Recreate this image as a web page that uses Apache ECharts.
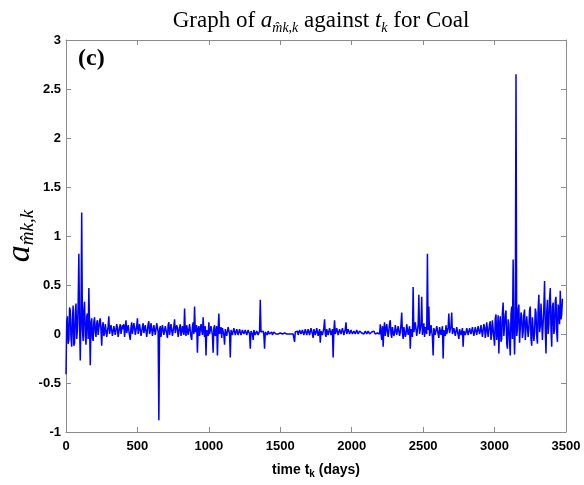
<!DOCTYPE html>
<html>
<head>
<meta charset="utf-8">
<script src="https://cdn.jsdelivr.net/npm/echarts@6/dist/echarts.min.js"></script>
<style>html,body{margin:0;padding:0;background:#fff}#c{width:584px;height:485px}</style>
</head>
<body>
<div id="c"></div>
<script>
// time of first sample and spacing (days)
const startDay = 0;
const stepDays = 5;
// a_{m̂k,k} values (one row = 100 days)
const values = [
  -0.41, 0.12, 0.18, -0.1, -0.06, 0.27, 0.24, -0.04, -0.13, 0.15, 0.29, -0.12, -0.09, 0.22, 0.31, -0.05, 0.04, 0.3, 0.82, 0.1,
  -0.27, 0.2, 1.24, 0.05, -0.07, 0.25, 0.33, -0.02, -0.11, 0.18, 0.21, -0.05, 0.47, 0.08, -0.32, 0.12, 0.16, -0.04, -0.07, 0.13,
  0.17, 0.02, -0.03, 0.11, 0.14, -0.01, 0.0, 0.13, 0.16, 0.03, -0.12, 0.08, 0.12, -0.02, 0.01, 0.1, 0.09, -0.03, -0.02, 0.08,
  0.18, 0.0, 0.02, 0.09, 0.07, -0.02, -0.04, 0.08, 0.09, -0.01, 0.0, 0.1, 0.06, -0.03, -0.05, 0.07, 0.1, 0.0, 0.01, 0.09,
  0.05, 0.1, -0.03, 0.06, 0.14, 0.01, 0.0, 0.09, 0.08, -0.02, -0.06, 0.07, 0.12, 0.0, 0.02, 0.11, 0.07, -0.01, -0.03, 0.08,
  0.16, 0.0, 0.01, 0.1, 0.09, -0.02, -0.04, 0.07, 0.11, 0.01, 0.0, 0.09, 0.08, -0.03, -0.02, 0.1, 0.13, 0.0, 0.03, 0.11,
  0.06, -0.02, -0.03, 0.09, 0.1, -0.01, 0.0, 0.11, 0.12, 0.02, -0.88, 0.05, 0.08, -0.03, -0.02, 0.09, 0.1, -0.01, 0.0, 0.08,
  0.07, 0.0, -0.04, 0.09, 0.12, -0.01, 0.01, 0.1, 0.08, -0.02, -0.03, 0.08, 0.15, 0.01, 0.0, 0.09, 0.06, -0.03, -0.05, 0.07,
  0.1, -0.02, 0.02, 0.08, 0.07, -0.01, 0.26, 0.03, -0.02, 0.09, 0.11, -0.01, 0.0, 0.1, 0.09, -0.03, -0.06, 0.07, 0.12, 0.0,
  0.28, 0.02, 0.01, 0.09, -0.19, 0.05, 0.08, -0.02, 0.0, 0.1, 0.1, -0.01, 0.17, 0.03, -0.03, 0.08, -0.22, 0.04, 0.06, -0.02,
  0.12, 0.0, -0.02, 0.08, 0.07, -0.01, -0.19, 0.06, 0.09, -0.02, 0.01, 0.08, -0.22, 0.05, 0.21, 0.0, 0.03, 0.07, -0.04, 0.06,
  0.08, -0.01, -0.11, 0.05, 0.06, -0.02, 0.0, 0.07, 0.09, 0.0, -0.24, 0.04, 0.05, -0.01, 0.01, 0.06, 0.07, -0.01, -0.03, 0.05,
  0.06, -0.01, 0.0, 0.05, 0.04, -0.01, -0.02, 0.04, 0.05, 0.0, 0.01, 0.04, 0.03, -0.01, -0.01, 0.04, 0.04, 0.0, -0.15, 0.03,
  0.03, 0.0, -0.06, 0.04, 0.04, -0.01, 0.0, 0.03, 0.02, -0.01, -0.02, 0.03, 0.35, 0.02, 0.01, 0.04, 0.03, -0.01, -0.15, 0.02,
  0.02, 0.0, -0.01, 0.03, 0.03, 0.0, 0.0, 0.02, 0.02, -0.01, -0.02, 0.02, 0.03, 0.0, 0.0, 0.02, 0.01, 0.0, 0.02, 0.01,
  0.01, 0.02, 0.02, 0.0, 0.0, 0.02, 0.01, 0.01, 0.02, 0.0, 0.01, 0.02, 0.0, 0.01, 0.02, 0.0, 0.01, 0.02, 0.0, 0.01,
  -0.08, 0.02, 0.01, 0.03, 0.03, -0.01, 0.0, 0.04, 0.04, 0.0, -0.02, 0.04, 0.05, -0.01, 0.0, 0.05, 0.06, -0.01, -0.03, 0.05,
  0.05, -0.01, 0.01, 0.06, 0.07, 0.0, -0.04, 0.05, 0.04, -0.01, 0.02, 0.06, 0.06, -0.02, -0.03, 0.05, -0.09, 0.03, 0.05, -0.01,
  0.01, 0.06, 0.15, 0.0, -0.03, 0.05, 0.06, -0.01, 0.0, 0.06, 0.07, -0.01, -0.02, 0.05, -0.24, 0.03, 0.14, 0.0, 0.02, 0.06,
  0.06, -0.01, -0.03, 0.05, 0.05, 0.0, 0.01, 0.06, 0.07, -0.01, -0.02, 0.05, 0.12, 0.0, 0.0, 0.05, 0.05, 0.0, 0.02, 0.04,
  0.04, 0.0, -0.01, 0.03, 0.05, 0.0, 0.02, 0.04, 0.03, 0.0, 0.0, 0.03, 0.04, 0.01, 0.01, 0.03, 0.03, 0.0, 0.02, 0.03,
  0.02, 0.0, 0.01, 0.03, 0.03, 0.0, 0.0, 0.02, 0.02, 0.0, 0.01, 0.03, 0.03, 0.0, 0.0, 0.02, 0.01, 0.03, 0.02, 0.0,
  0.1, 0.0, -0.06, 0.08, -0.13, 0.05, 0.12, -0.02, -0.02, 0.1, 0.09, -0.03, 0.03, 0.11, 0.14, 0.0, -0.04, 0.07, 0.08, -0.02,
  0.01, 0.09, 0.11, -0.01, -0.03, 0.08, 0.07, -0.02, 0.02, 0.1, 0.22, 0.01, -0.05, 0.07, 0.09, -0.03, 0.0, 0.1, 0.12, -0.01,
  -0.02, 0.08, -0.15, 0.05, 0.06, -0.03, 0.48, 0.02, 0.03, 0.12, 0.1, -0.02, -0.04, 0.09, 0.4, 0.0, 0.02, 0.1, 0.38, -0.01,
  0.05, 0.11, -0.03, 0.07, 0.08, 0.0, 0.82, 0.04, 0.28, -0.02, 0.02, 0.09, 0.09, -0.03, -0.22, 0.06, 0.06, -0.01, 0.0, 0.08,
  0.08, 0.0, -0.04, 0.07, 0.07, -0.01, 0.01, 0.08, -0.25, 0.04, 0.05, -0.02, 0.09, 0.0, -0.02, 0.07, 0.21, 0.01, 0.03, 0.08,
  0.22, 0.0, -0.01, 0.06, 0.06, -0.02, 0.0, 0.07, 0.08, -0.01, -0.05, 0.05, 0.04, -0.01, 0.01, 0.06, -0.13, 0.03, 0.05, -0.01,
  0.02, 0.06, 0.07, -0.01, -0.02, 0.06, 0.05, 0.0, 0.01, 0.07, 0.08, -0.02, 0.0, 0.07, 0.06, -0.01, -0.03, 0.08, 0.09, 0.0,
  0.03, 0.09, 0.1, -0.03, -0.02, 0.1, 0.07, -0.04, 0.02, 0.12, 0.11, -0.03, -0.05, 0.1, 0.13, -0.06, 0.0, 0.14, 0.15, -0.04,
  -0.12, 0.16, 0.2, -0.06, 0.02, 0.19, -0.2, 0.1, 0.18, -0.08, -0.05, 0.22, 0.32, -0.02, 0.0, 0.2, 0.24, -0.1, -0.15, 0.15,
  0.1, -0.08, -0.22, 0.2, 0.28, -0.05, 0.76, 0.05, -0.21, 0.12, 2.65, -0.02, 0.05, 0.25, 0.3, -0.09, -0.1, 0.22, 0.18, -0.04,
  0.02, 0.2, 0.25, -0.06, -0.08, 0.18, 0.2, -0.03, 0.05, 0.24, 0.28, -0.05, -0.12, 0.17, 0.15, -0.07, 0.01, 0.26, 0.22, -0.02,
  -0.1, 0.25, 0.4, 0.02, 0.08, 0.31, 0.3, -0.06, -0.05, 0.28, 0.54, 0.05, -0.2, 0.22, 0.35, 0.0, 0.1, 0.36, 0.47, 0.04,
  -0.13, 0.28, 0.32, 0.0, 0.05, 0.34, 0.38, 0.02, -0.08, 0.3, 0.25, 0.1, 0.44, 0.15, 0.2, 0.36
];
const xTicks = { min: 0, max: 3500, interval: 500 };
const yTicks = { min: -1, max: 3, interval: 0.5 };

const seriesData = values.map((v, i) => [startDay + i * stepDays, v]);

const frameColor = '#8c8c8c';
const serif = 'Liberation Serif, DejaVu Serif, serif';
const sans = 'Liberation Sans, Arial, sans-serif';
const labelFont = { color: '#000', fontFamily: sans, fontWeight: 'bold', fontSize: 13 };
const frameAxis = {
  axisLine: { show: true, onZero: false, lineStyle: { color: frameColor, width: 1 } },
  axisTick: { show: true, inside: true, length: 5, lineStyle: { color: frameColor } },
  splitLine: { show: false }
};

const chart = echarts.init(document.getElementById('c'), null, { renderer: 'canvas' });
chart.setOption({
  animation: false,
  backgroundColor: '#fff',
  title: {
    left: 316,
    textAlign: 'center',
    top: 2,
    text: '{n|Graph of }{i|a}{s|m\u0302k,k}{n| against }{i|t}{s|k}{n| for Coal}',
    textStyle: {
      fontWeight: 'normal',
      rich: {
        n: { fontFamily: serif, fontWeight: 'normal', fontSize: 23, lineHeight: 28, color: '#000' },
        i: { fontFamily: serif, fontWeight: 'normal', fontStyle: 'italic', fontSize: 23, lineHeight: 28, color: '#000' },
        s: { fontFamily: serif, fontWeight: 'normal', fontStyle: 'italic', fontSize: 14, lineHeight: 10, verticalAlign: 'bottom', color: '#000' }
      }
    }
  },
  grid: { left: 66, right: 18, top: 40, bottom: 53, containLabel: false, outerBoundsMode: 'none' },
  xAxis: [
    Object.assign({
      type: 'value', position: 'bottom', min: xTicks.min, max: xTicks.max, interval: xTicks.interval,
      axisLabel: Object.assign({ margin: 8, formatter: (v) => String(v) }, labelFont),
      name: '{b|time t}{sb|k}{b| (days)}',
      nameLocation: 'middle', nameGap: 29,
      nameTextStyle: {
        rich: {
          b: { fontFamily: sans, fontWeight: 'bold', fontSize: 14, lineHeight: 18, color: '#000' },
          sb: { fontFamily: sans, fontWeight: 'bold', fontSize: 10, lineHeight: 6, verticalAlign: 'bottom', color: '#000' }
        }
      }
    }, frameAxis),
    Object.assign({
      type: 'value', position: 'top', min: xTicks.min, max: xTicks.max, interval: xTicks.interval,
      axisLabel: { show: false }
    }, frameAxis)
  ],
  yAxis: [
    Object.assign({
      type: 'value', position: 'left', min: yTicks.min, max: yTicks.max, interval: yTicks.interval,
      axisLabel: Object.assign({ margin: 5, formatter: (v) => String(v) }, labelFont),
      name: '{a|a}{s|m\u0302k,k}',
      nameLocation: 'middle', nameRotate: 90, nameGap: 29, nameMoveOverlap: false,
      nameTextStyle: {
        rich: {
          a: { fontFamily: serif, fontStyle: 'italic', fontSize: 34, lineHeight: 34, color: '#000' },
          s: { fontFamily: serif, fontStyle: 'italic', fontSize: 19, lineHeight: 12, verticalAlign: 'bottom', color: '#000' }
        }
      }
    }, frameAxis),
    Object.assign({
      type: 'value', position: 'right', min: yTicks.min, max: yTicks.max, interval: yTicks.interval,
      axisLabel: { show: false }
    }, frameAxis)
  ],
  graphic: [{
    type: 'text', left: 78, top: 47,
    style: { text: '(c)', fontFamily: serif, fontWeight: 'bold', fontSize: 24, fill: '#000' }
  }],
  series: [{
    type: 'line',
    xAxisIndex: 0, yAxisIndex: 0,
    data: seriesData,
    showSymbol: false,
    symbol: 'none',
    sampling: null,
    lineStyle: { color: '#0000ff', width: 1.5 },
    itemStyle: { color: '#0000ff' }
  }]
});
</script>
</body>
</html>
